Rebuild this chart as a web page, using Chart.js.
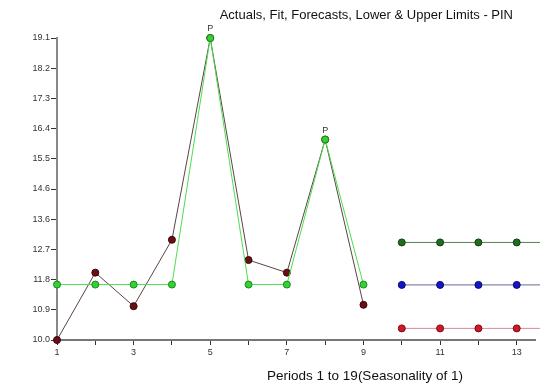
<!DOCTYPE html>
<html>
<head>
<meta charset="utf-8">
<script src="https://cdn.jsdelivr.net/npm/chart.js@4"></script>
<style>
  html, body { margin: 0; padding: 0; background: #fff; }
  #wrap { width: 540px; height: 386px; }
</style>
</head>
<body>
<div id="wrap"><canvas id="pinChart"></canvas></div>
<script>
const periods = [1, 2, 3, 4, 5, 6, 7, 8, 9];
const actuals = [10.0, 12.03, 11.02, 13.02, 19.1, 12.41, 12.03, 16.04, 11.06];
const fit = [11.67, 11.67, 11.67, 11.67, 19.1, 11.67, 11.67, 16.04, 11.67];
const peakMarks = ['', '', '', '', 'P', '', '', 'P', ''];

const forecastPeriods = [10, 11, 12, 13, 14, 15, 16, 17, 18, 19];
const forecast = [11.66, 11.66, 11.66, 11.66, 11.66, 11.66, 11.66, 11.66, 11.66, 11.66];
const upperLimit = [12.94, 12.94, 12.94, 12.94, 12.94, 12.94, 12.94, 12.94, 12.94, 12.94];
const lowerLimit = [10.35, 10.35, 10.35, 10.35, 10.35, 10.35, 10.35, 10.35, 10.35, 10.35];

const yTicks = [10.0, 10.91, 11.82, 12.73, 13.64, 14.55, 15.46, 16.37, 17.28, 18.19, 19.1];
const yTickLabels = ['10.0', '10.9', '11.8', '12.7', '13.6', '14.6', '15.5', '16.4', '17.3', '18.2', '19.1'];
const xTicks = [1, 2, 3, 4, 5, 6, 7, 8, 9, 10, 11, 12, 13];

const chartTitle = 'Actuals, Fit, Forecasts, Lower & Upper Limits - PIN';
const xTitle = 'Periods 1 to 19(Seasonality of 1)';

const toXY = (xs, ys) => xs.map((x, i) => ({ x: x, y: ys[i] }));

function serie(label, xs, ys, line, fill, border) {
  return {
    label: label,
    data: toXY(xs, ys),
    borderColor: line,
    borderWidth: 1,
    pointBackgroundColor: fill,
    pointBorderColor: border,
    pointBorderWidth: 1,
    pointRadius: 3.5,
    pointHoverRadius: 3.5,
    tension: 0,
    clip: false
  };
}

// textos fixos: titulo, titulo do eixo x e marcas "P"
const textos = {
  id: 'textos',
  afterDatasetsDraw(chart) {
    const ctx = chart.ctx;
    ctx.save();
    ctx.fillStyle = '#111';
    ctx.font = '13px "Liberation Sans", Arial, sans-serif';
    ctx.textAlign = 'right';
    ctx.textBaseline = 'middle';
    ctx.fillText(chartTitle, 513, 15);
    ctx.textAlign = 'center';
    ctx.font = '13.5px "Liberation Sans", Arial, sans-serif';
    ctx.fillText(xTitle, 365, 376);

    ctx.font = '9px "Liberation Sans", Arial, sans-serif';
    ctx.fillStyle = '#333';
    ctx.textBaseline = 'bottom';
    const meta = chart.getDatasetMeta(0);
    peakMarks.forEach((m, i) => {
      if (!m) return;
      const p = meta.data[i];
      ctx.fillText(m, p.x, p.y - 5);
    });
    ctx.restore();
  }
};

// o Fit fica por cima dos Actuals (dataset 0 e desenhado por ultimo)
new Chart(document.getElementById('pinChart'), {
  type: 'line',
  data: {
    datasets: [
      serie('Fit', periods, fit, '#4ddd4d', '#35d035', '#168a16'),
      serie('Actuals', periods, actuals, '#5a4444', '#6b0d16', '#3a0508'),
      serie('Upper Limit', forecastPeriods, upperLimit, '#4f7f4f', '#1f6e1f', '#0e400e'),
      serie('Forecast', forecastPeriods, forecast, '#6a6a9a', '#1515c8', '#0a0a70'),
      serie('Lower Limit', forecastPeriods, lowerLimit, '#d88a98', '#d01828', '#7a0a12')
    ]
  },
  options: {
    responsive: true,
    maintainAspectRatio: false,
    animation: false,
    layout: { padding: { top: 38, right: 0, left: 0, bottom: 0 } },
    plugins: {
      legend: { display: false },
      title: { display: false },
      tooltip: { enabled: false }
    },
    scales: {
      x: {
        type: 'linear',
        min: 1,
        max: 13.49,
        afterBuildTicks: s => { s.ticks = xTicks.map(v => ({ value: v })); },
        afterFit: s => { s.height = 46; },
        grid: { drawOnChartArea: false, tickLength: 5, color: '#333', tickWidth: 1 },
        border: { color: '#777', width: 2 },
        ticks: {
          autoSkip: false,
          maxRotation: 0,
          padding: 2,
          color: '#333',
          font: { size: 9, family: '"Liberation Sans", Arial, sans-serif' },
          callback: v => (v % 2 === 1 ? String(v) : '')
        }
      },
      y: {
        min: 10.0,
        max: 19.1,
        afterBuildTicks: s => { s.ticks = yTicks.map(v => ({ value: v })); },
        afterFit: s => { s.width = 57; },
        grid: { drawOnChartArea: false, tickLength: 6, color: '#333', tickWidth: 1 },
        border: { color: '#888', width: 2 },
        ticks: {
          padding: 1,
          color: '#333',
          font: { size: 9, family: '"Liberation Sans", Arial, sans-serif' },
          callback: (v, i) => yTickLabels[i]
        }
      }
    }
  },
  plugins: [textos]
});
</script>
</body>
</html>
